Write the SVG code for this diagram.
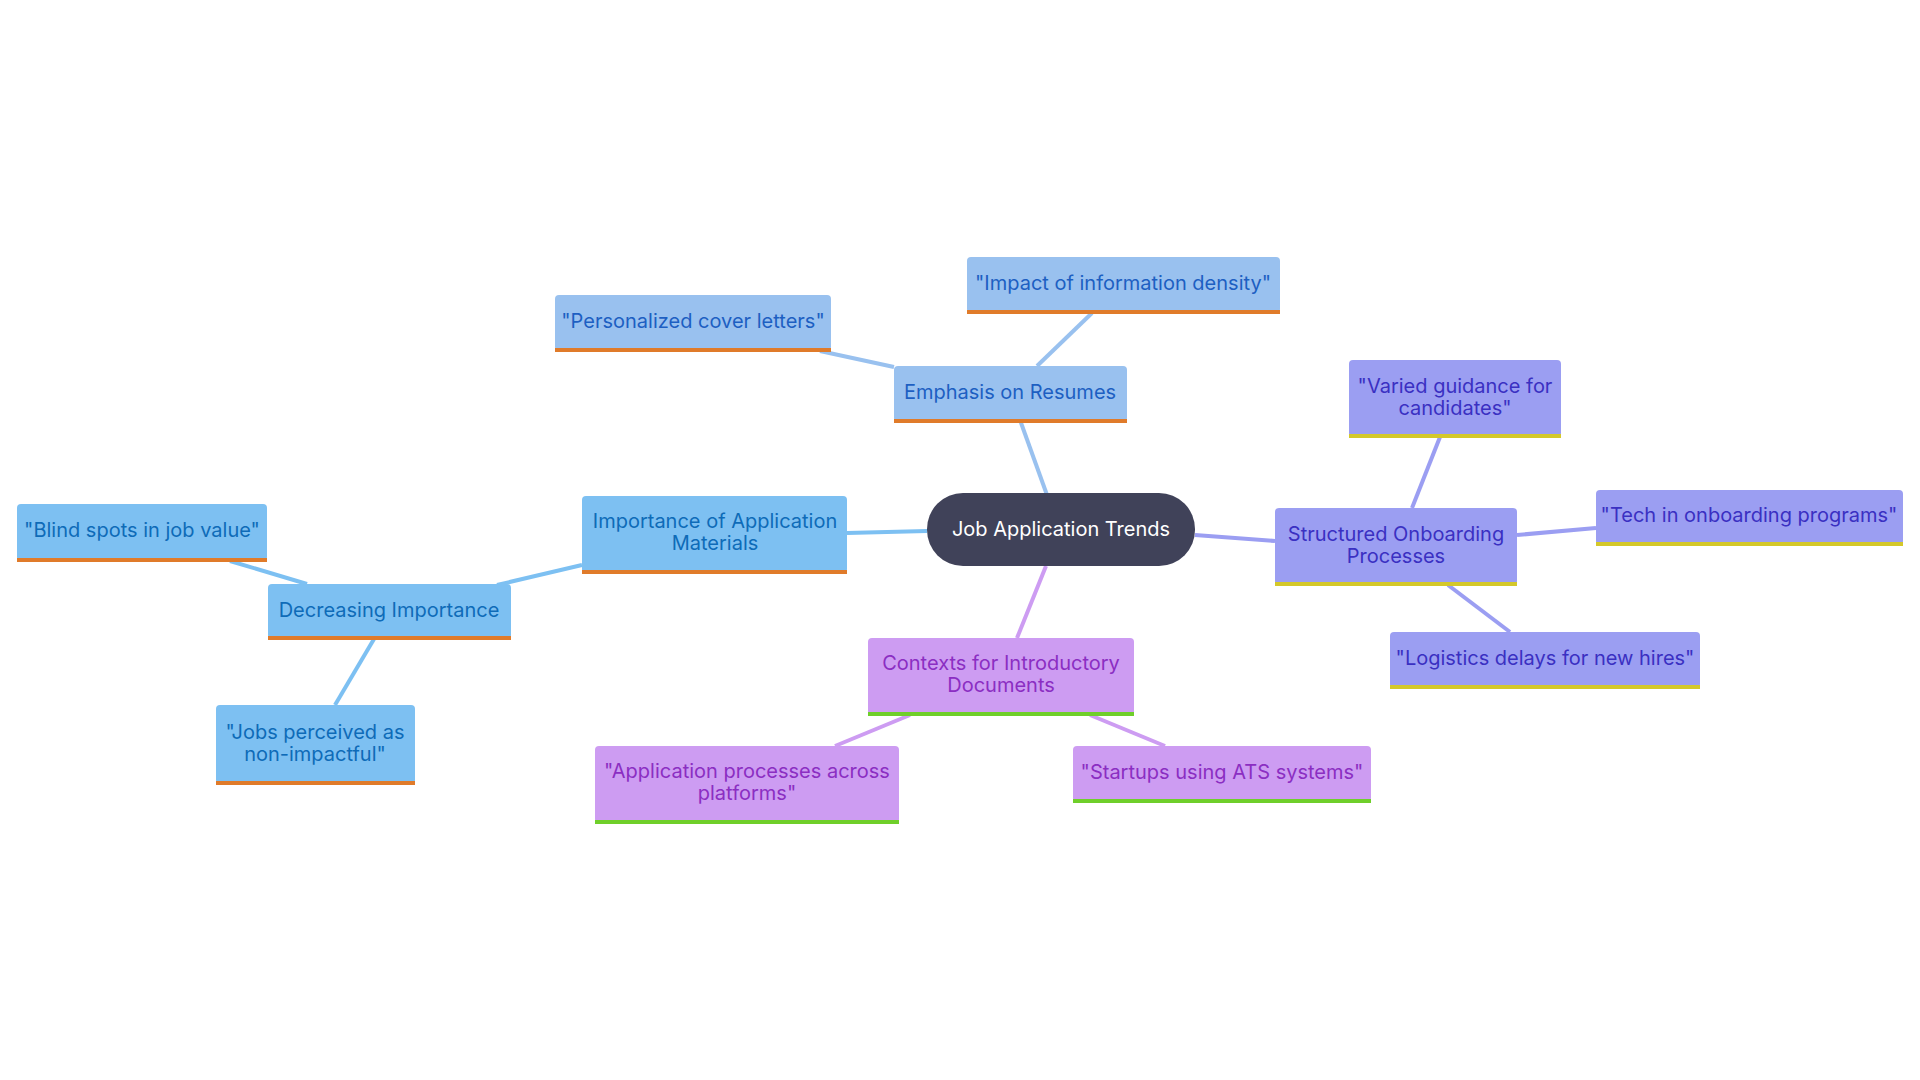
<svg xmlns="http://www.w3.org/2000/svg" width="1920" height="1080" viewBox="0 0 1920 1080">
<style>
text{font-family:Inter,"Noto Sans",sans-serif;font-size:20px;text-anchor:middle;dominant-baseline:central}
.b rect.f{fill:#7dc0f2}.b text{fill:#0e6bb8}
.r rect.f{fill:#99c1ef}.r text{fill:#1d5fc2}
.p rect.f{fill:#cd9cf2}.p text{fill:#8b2ec2}
.i rect.f{fill:#9b9ef2}.i text{fill:#3a30c2}
.ob{fill:#e07b2a}.gb{fill:#6fcf2a}.yb{fill:#d4c82a}
#edges line{stroke-width:4;fill:none}
</style>
<g id="edges">
<line x1="1047" y1="495" x2="1020" y2="420" stroke="#99c1ef"/>
<line x1="1037" y1="366" x2="1092" y2="313" stroke="#99c1ef"/>
<line x1="894" y1="367" x2="820" y2="351" stroke="#99c1ef"/>
<line x1="927" y1="531" x2="847" y2="533" stroke="#7dc0f2"/>
<line x1="582" y1="565" x2="497" y2="585" stroke="#7dc0f2"/>
<line x1="307" y1="584" x2="230" y2="561" stroke="#7dc0f2"/>
<line x1="374" y1="639" x2="335" y2="705" stroke="#7dc0f2"/>
<line x1="1046" y1="566" x2="1017" y2="638" stroke="#cd9cf2"/>
<line x1="910" y1="715" x2="835" y2="746" stroke="#cd9cf2"/>
<line x1="1090" y1="715" x2="1165" y2="746" stroke="#cd9cf2"/>
<line x1="1195" y1="535" x2="1275" y2="541" stroke="#9b9ef2"/>
<line x1="1412" y1="508" x2="1440" y2="437" stroke="#9b9ef2"/>
<line x1="1517" y1="535" x2="1596" y2="528" stroke="#9b9ef2"/>
<line x1="1448" y1="585" x2="1510" y2="632" stroke="#9b9ef2"/>
</g>
<g id="center"><rect x="927" y="493" width="268" height="73" rx="36" fill="#404259"/><text x="1061" y="529" fill="#fff">Job Application Trends</text></g>
<g id="n1" class="r"><rect class="f" x="894" y="366" width="233" height="56" rx="4"/><rect class="ob" x="894" y="419" width="233" height="4"/><text x="1010" y="392">Emphasis on Resumes</text></g>
<g id="n2" class="r"><rect class="f" x="967" y="257" width="313" height="56" rx="4"/><rect class="ob" x="967" y="310" width="313" height="4"/><text x="1123" y="283">"Impact of information density"</text></g>
<g id="n3" class="r"><rect class="f" x="555" y="295" width="276" height="56" rx="4"/><rect class="ob" x="555" y="348" width="276" height="4"/><text x="693" y="321">"Personalized cover letters"</text></g>
<g id="n4" class="b"><rect class="f" x="582" y="496" width="265" height="77" rx="4"/><rect class="ob" x="582" y="570" width="265" height="4"/><text x="715" y="521">Importance of Application</text><text x="715" y="543">Materials</text></g>
<g id="n5" class="b"><rect class="f" x="268" y="584" width="243" height="55" rx="4"/><rect class="ob" x="268" y="636" width="243" height="4"/><text x="389" y="610">Decreasing Importance</text></g>
<g id="n6" class="b"><rect class="f" x="17" y="504" width="250" height="57" rx="4"/><rect class="ob" x="17" y="558" width="250" height="4"/><text x="142" y="530">"Blind spots in job value"</text></g>
<g id="n7" class="b"><rect class="f" x="216" y="705" width="199" height="79" rx="4"/><rect class="ob" x="216" y="781" width="199" height="4"/><text x="315" y="732">"Jobs perceived as</text><text x="315" y="754">non-impactful"</text></g>
<g id="n8" class="p"><rect class="f" x="868" y="638" width="266" height="77" rx="4"/><rect class="gb" x="868" y="712" width="266" height="4"/><text x="1001" y="663">Contexts for Introductory</text><text x="1001" y="685">Documents</text></g>
<g id="n9" class="p"><rect class="f" x="595" y="746" width="304" height="77" rx="4"/><rect class="gb" x="595" y="820" width="304" height="4"/><text x="747" y="771">"Application processes across</text><text x="747" y="793">platforms"</text></g>
<g id="n10" class="p"><rect class="f" x="1073" y="746" width="298" height="56" rx="4"/><rect class="gb" x="1073" y="799" width="298" height="4"/><text x="1222" y="772">"Startups using ATS systems"</text></g>
<g id="n11" class="i"><rect class="f" x="1275" y="508" width="242" height="77" rx="4"/><rect class="yb" x="1275" y="582" width="242" height="4"/><text x="1396" y="534">Structured Onboarding</text><text x="1396" y="556">Processes</text></g>
<g id="n12" class="i"><rect class="f" x="1349" y="360" width="212" height="77" rx="4"/><rect class="yb" x="1349" y="434" width="212" height="4"/><text x="1455" y="386">"Varied guidance for</text><text x="1455" y="408">candidates"</text></g>
<g id="n13" class="i"><rect class="f" x="1596" y="490" width="307" height="55" rx="4"/><rect class="yb" x="1596" y="542" width="307" height="4"/><text x="1749" y="515">"Tech in onboarding programs"</text></g>
<g id="n14" class="i"><rect class="f" x="1390" y="632" width="310" height="56" rx="4"/><rect class="yb" x="1390" y="685" width="310" height="4"/><text x="1545" y="658">"Logistics delays for new hires"</text></g>
</svg>
